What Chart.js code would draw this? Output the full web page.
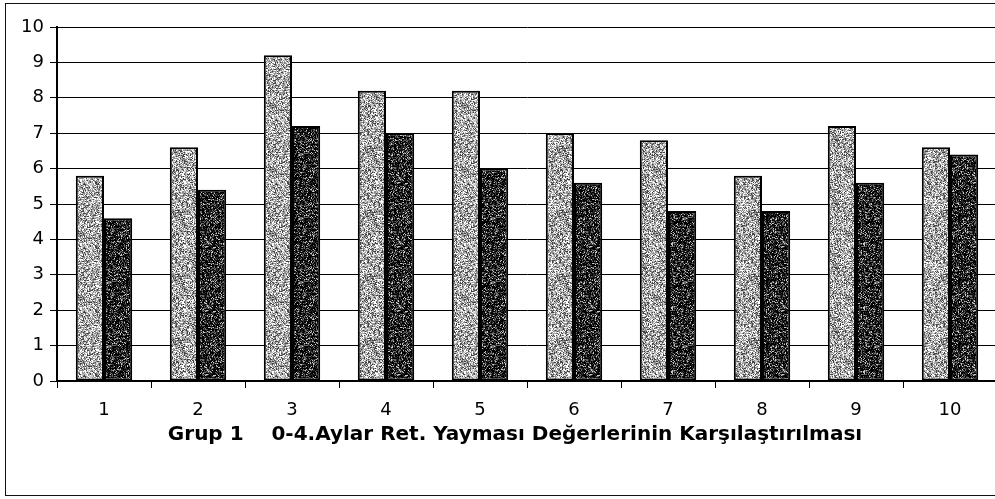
<!DOCTYPE html>
<html>
<head>
<meta charset="utf-8">
<script src="https://cdn.jsdelivr.net/npm/chart.js@4"></script>
<style>
  body { margin: 0; overflow: hidden; background: #fff; width: 995px; height: 499px; position: relative; }
  #frame { position: absolute; left: 5px; top: 3px; width: 1010px; height: 493px; border: 1px solid #111; box-sizing: border-box; }
  #graph { position: absolute; left: 0; top: 0; }
</style>
</head>
<body>
<div id="frame"></div>
<canvas id="graph" width="1010" height="499"></canvas>
<script>
const categories = ['1', '2', '3', '4', '5', '6', '7', '8', '9', '10'];
const lightValues = [5.8, 6.6, 9.2, 8.2, 8.2, 7.0, 6.8, 5.8, 7.2, 6.6];
const darkValues = [4.6, 5.4, 7.2, 7.0, 6.0, 5.6, 4.8, 4.8, 5.6, 6.4];
const yMin = 0;
const yMax = 10;
const yStep = 1;
const chartTitle = 'Grup 1    0-4.Aylar Ret. Yayması Değerlerinin Karşılaştırılması';

// speckled fill like the scanned print, fixed seed so it looks the same every run
const speckle = (palette, seed) => {
  const c = document.createElement('canvas');
  c.width = 64;
  c.height = 64;
  const ctx = c.getContext('2d');
  let s = seed;
  for (let y = 0; y < 64; y++) {
    for (let x = 0; x < 64; x++) {
      s = (s * 1103515245 + 12345) % 2147483648;
      const r = s / 2147483648;
      let acc = 0;
      for (const [col, p] of palette) {
        acc += p;
        if (r < acc) { ctx.fillStyle = col; break; }
      }
      ctx.fillRect(x, y, 1, 1);
    }
  }
  return ctx.createPattern(c, 'repeat');
};

const g = document.getElementById('graph').getContext('2d');
const lightFill = speckle([['#ffffff', 0.22], ['#c8c8c8', 0.25], ['#8e8e8e', 0.33], ['#444444', 0.2]], 7);
const darkFill = speckle([['#000000', 0.45], ['#2a2a2a', 0.25], ['#6a6a6a', 0.2], ['#c8c8c8', 0.1]], 13);

const font = { family: '"DejaVu Sans", Arial, sans-serif', size: 18 };

const bottomTitle = {
  id: 'bottomTitle',
  afterDraw(chart) {
    const { ctx, chartArea } = chart;
    ctx.save();
    ctx.font = 'bold 20px "DejaVu Sans", Arial, sans-serif';
    ctx.fillStyle = '#000';
    ctx.textAlign = 'center';
    ctx.textBaseline = 'alphabetic';
    ctx.fillText(chartTitle, chartArea.left + 458, chartArea.bottom + 59);
    ctx.restore();
  },
};

new Chart(g, {
  type: 'bar',
  data: {
    labels: categories,
    datasets: [
      { data: lightValues, backgroundColor: lightFill, borderColor: '#000', borderWidth: 2, borderSkipped: false },
      { data: darkValues, backgroundColor: darkFill, borderColor: '#000', borderWidth: 2, borderSkipped: false },
    ],
  },
  options: {
    responsive: false,
    animation: false,
    layout: { padding: { left: 0, top: 27, right: 13, bottom: 0 } },
    datasets: { bar: { categoryPercentage: 0.6, barPercentage: 1 } },
    plugins: { legend: { display: false }, tooltip: { enabled: false }, title: { display: false } },
    scales: {
      x: {
        grid: { display: true, drawOnChartArea: false, offset: true, color: '#000', tickLength: 7 },
        border: { color: '#000', width: 2 },
        ticks: { color: '#000', font, padding: 12 },
        afterFit: (s) => { s.height = 118; },
      },
      y: {
        min: yMin,
        max: yMax,
        grid: { color: '#000', lineWidth: 1, tickLength: 7 },
        border: { color: '#000', width: 2 },
        ticks: { stepSize: yStep, color: '#000', font, padding: 6 },
        afterFit: (s) => { s.width = 57; },
      },
    },
  },
  plugins: [bottomTitle],
});
</script>
</body>
</html>
